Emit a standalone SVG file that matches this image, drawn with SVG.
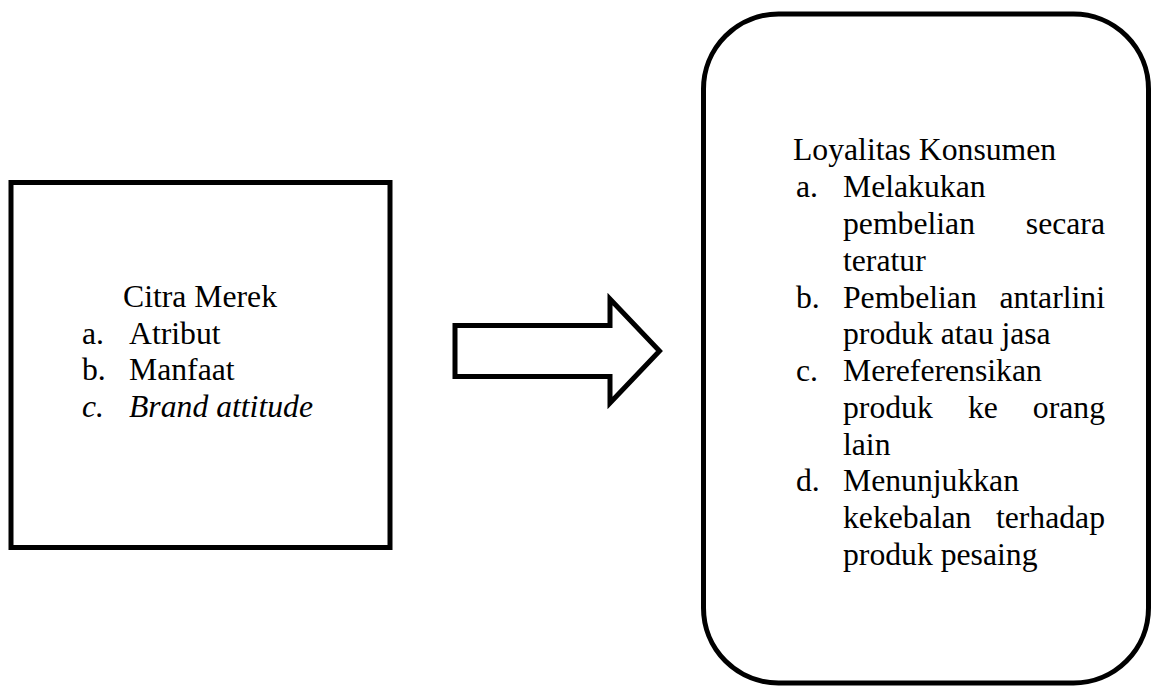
<svg xmlns="http://www.w3.org/2000/svg" width="1152" height="688" viewBox="0 0 1152 688">
  <style>
    .box { fill: #ffffff; stroke: #000000; stroke-width: 5; }
    .arrow { fill: #ffffff; stroke: #000000; stroke-width: 5; stroke-linejoin: miter; stroke-miterlimit: 10; }
    .t { font-family: "Liberation Serif", "Times New Roman", serif; font-size: 31.7px; fill: #000000; }
    .it { font-style: italic; }
    .end { text-anchor: end; }
  </style>
  <rect width="1152" height="688" fill="#ffffff"/>

  <!-- Brand image variable -->
  <g id="citra-merek">
    <rect class="box" x="11" y="182.5" width="379" height="365"/>
    <text class="t" x="123" y="307">Citra Merek</text>
    <text class="t" x="82" y="343.5">a.</text>
    <text class="t" x="129" y="343.5">Atribut</text>
    <text class="t" x="82" y="380">b.</text>
    <text class="t" x="129" y="380">Manfaat</text>
    <text class="t it" x="82" y="417">c.</text>
    <text class="t it" x="129" y="417">Brand attitude</text>
  </g>

  <!-- Block arrow between the variables -->
  <g id="connectors">
    <polygon class="arrow" points="455,325.5 610,325.5 610,299 659.5,351 610,403 610,376.5 455,376.5"/>
  </g>

  <!-- Consumer loyalty variable -->
  <g id="loyalitas-konsumen">
    <rect class="box" x="703.5" y="14" width="445" height="669" rx="75" ry="75"/>
    <text class="t" x="793" y="160">Loyalitas Konsumen</text>
    <text class="t" x="796" y="197">a.</text>
    <text class="t" x="843" y="197">Melakukan</text>
    <text class="t" x="843" y="234">pembelian</text>
    <text class="t end" x="1105" y="234">secara</text>
    <text class="t" x="843" y="270.5">teratur</text>
    <text class="t" x="796" y="307.5">b.</text>
    <text class="t" x="843" y="307.5">Pembelian</text>
    <text class="t end" x="1105" y="307.5">antarlini</text>
    <text class="t" x="843" y="344">produk atau jasa</text>
    <text class="t" x="796" y="381">c.</text>
    <text class="t" x="843" y="381">Mereferensikan</text>
    <text class="t" x="843" y="417.5">produk</text>
    <text class="t" x="968" y="417.5">ke</text>
    <text class="t end" x="1105" y="417.5">orang</text>
    <text class="t" x="843" y="454.5">lain</text>
    <text class="t" x="796" y="491">d.</text>
    <text class="t" x="843" y="491">Menunjukkan</text>
    <text class="t" x="843" y="528">kekebalan</text>
    <text class="t end" x="1105" y="528">terhadap</text>
    <text class="t" x="843" y="565">produk pesaing</text>
  </g>
</svg>
